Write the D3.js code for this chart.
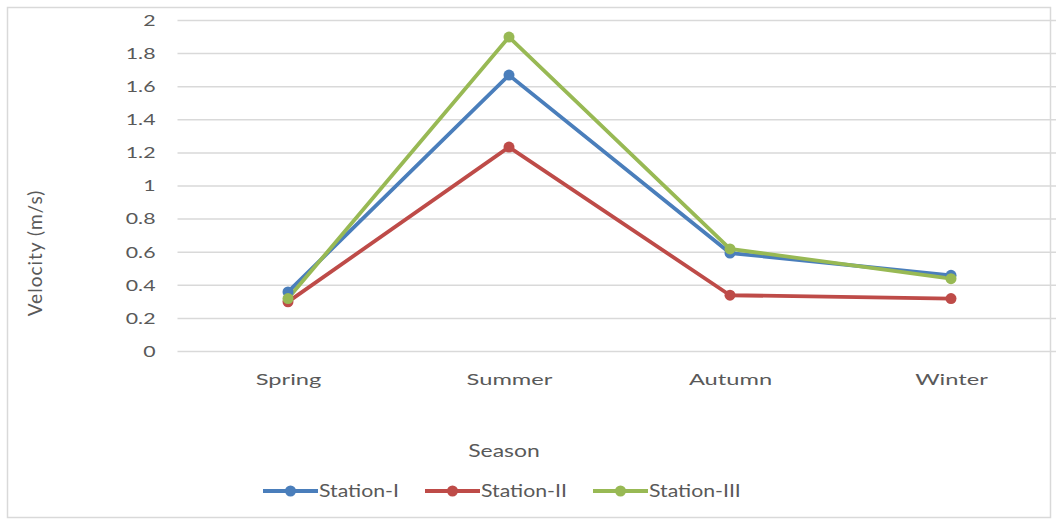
<!DOCTYPE html>
<html>
<head>
<meta charset="utf-8">
<script src="https://cdn.jsdelivr.net/npm/d3@7"></script>
<style>
  html, body { margin: 0; padding: 0; background: #fff; }
  svg { display: block; font-family: Lato, "Open Sans", sans-serif; }
</style>
</head>
<body>
<svg id="chart" width="1056" height="522"></svg>
<script>
// Seasonal mean velocity at three stations
const seasons = ["Spring", "Summer", "Autumn", "Winter"];
const stationNames = ["Station-I", "Station-II", "Station-III"];
const stationI   = [0.36, 1.67, 0.595, 0.46];
const stationII  = [0.30, 1.235, 0.34, 0.32];
const stationIII = [0.32, 1.90, 0.62, 0.44];
const yTicks = [0, 0.2, 0.4, 0.6, 0.8, 1, 1.2, 1.4, 1.6, 1.8, 2];
const colors = ["#4a7ebb", "#be4b48", "#98b954"];

const series = [stationI, stationII, stationIII].map((values, i) => ({
  name: stationNames[i], values, color: colors[i]
}));

const svg = d3.select("#chart");
const plot = { left: 177.5, right: 1061.5, top: 20.5, bottom: 351.5 };
const textColor = "#595959";

// chart-area frame
svg.append("rect")
  .attr("x", 7.5).attr("y", 7.5)
  .attr("width", 1043).attr("height", 510)
  .attr("fill", "#fff").attr("stroke", "#d9d9d9").attr("stroke-width", 1.5);

const x = d3.scalePoint().domain(seasons)
  .range([plot.left, plot.right]).padding(0.5);
const y = d3.scaleLinear().domain([0, 2]).range([plot.bottom, plot.top]);

// horizontal gridlines
svg.append("g")
  .selectAll("line").data(yTicks).join("line")
  .attr("x1", plot.left).attr("x2", plot.right)
  .attr("y1", d => y(d)).attr("y2", d => y(d))
  .attr("stroke", "#d9d9d9").attr("stroke-width", 1.5);

// y axis labels (wide face)
const yAxis = svg.append("g")
  .attr("transform", `translate(${plot.left - 22},0)`)
  .call(d3.axisLeft(y).tickValues(yTicks).tickFormat(d3.format("")).tickSize(0).tickPadding(0));
yAxis.select(".domain").remove();
yAxis.selectAll("text")
  .attr("fill", textColor).style("font-size", "15px")
  .attr("font-family", "Lato, 'Open Sans', sans-serif")
  .attr("transform", "scale(1.42,1)");

// x axis labels (wide face)
const xAxis = svg.append("g")
  .attr("transform", `translate(0,${plot.bottom + 22})`)
  .call(d3.axisBottom(x).tickSize(0).tickPadding(0));
xAxis.select(".domain").remove();
xAxis.selectAll("text")
  .attr("fill", textColor).style("font-size", "16px")
  .attr("font-family", "Lato, 'Open Sans', sans-serif")
  .attr("transform", "scale(1.48,1)");

// axis titles
svg.append("g").attr("transform", "translate(504,457) scale(1.35,1)")
  .append("text")
  .attr("text-anchor", "middle")
  .attr("fill", textColor).style("font-size", "17px")
  .text("Season");
svg.append("text")
  .attr("transform", "translate(42,253) rotate(-90)")
  .attr("text-anchor", "middle")
  .attr("fill", textColor).style("font-size", "19px")
  .attr("letter-spacing", "1px")
  .text("Velocity (m/s)");

// lines and markers
const line = d3.line()
  .x((d, i) => x(seasons[i]))
  .y(d => y(d));

const g = svg.append("g");
series.forEach(s => {
  g.append("path")
    .attr("d", line(s.values))
    .attr("fill", "none")
    .attr("stroke", s.color)
    .attr("stroke-width", 3.8)
    .attr("stroke-linejoin", "round");
});
series.forEach(s => {
  g.selectAll(null).data(s.values).join("circle")
    .attr("cx", (d, i) => x(seasons[i]))
    .attr("cy", d => y(d))
    .attr("r", 5.5)
    .attr("fill", s.color);
});

// legend
const legendX = [263, 425, 593];
const legendY = 491;
const lg = svg.append("g");
series.forEach((s, i) => {
  const item = lg.append("g").attr("transform", `translate(${legendX[i]},${legendY})`);
  item.append("line")
    .attr("x1", 0).attr("x2", 55).attr("y1", 0).attr("y2", 0)
    .attr("stroke", s.color).attr("stroke-width", 3.8);
  item.append("circle").attr("cx", 27.5).attr("cy", 0).attr("r", 5.5).attr("fill", s.color);
  item.append("g").attr("transform", "translate(56,6) scale(1.25,1)")
    .append("text")
    .attr("fill", textColor).style("font-size", "17px")
    .text(s.name);
});
</script>
</body>
</html>
